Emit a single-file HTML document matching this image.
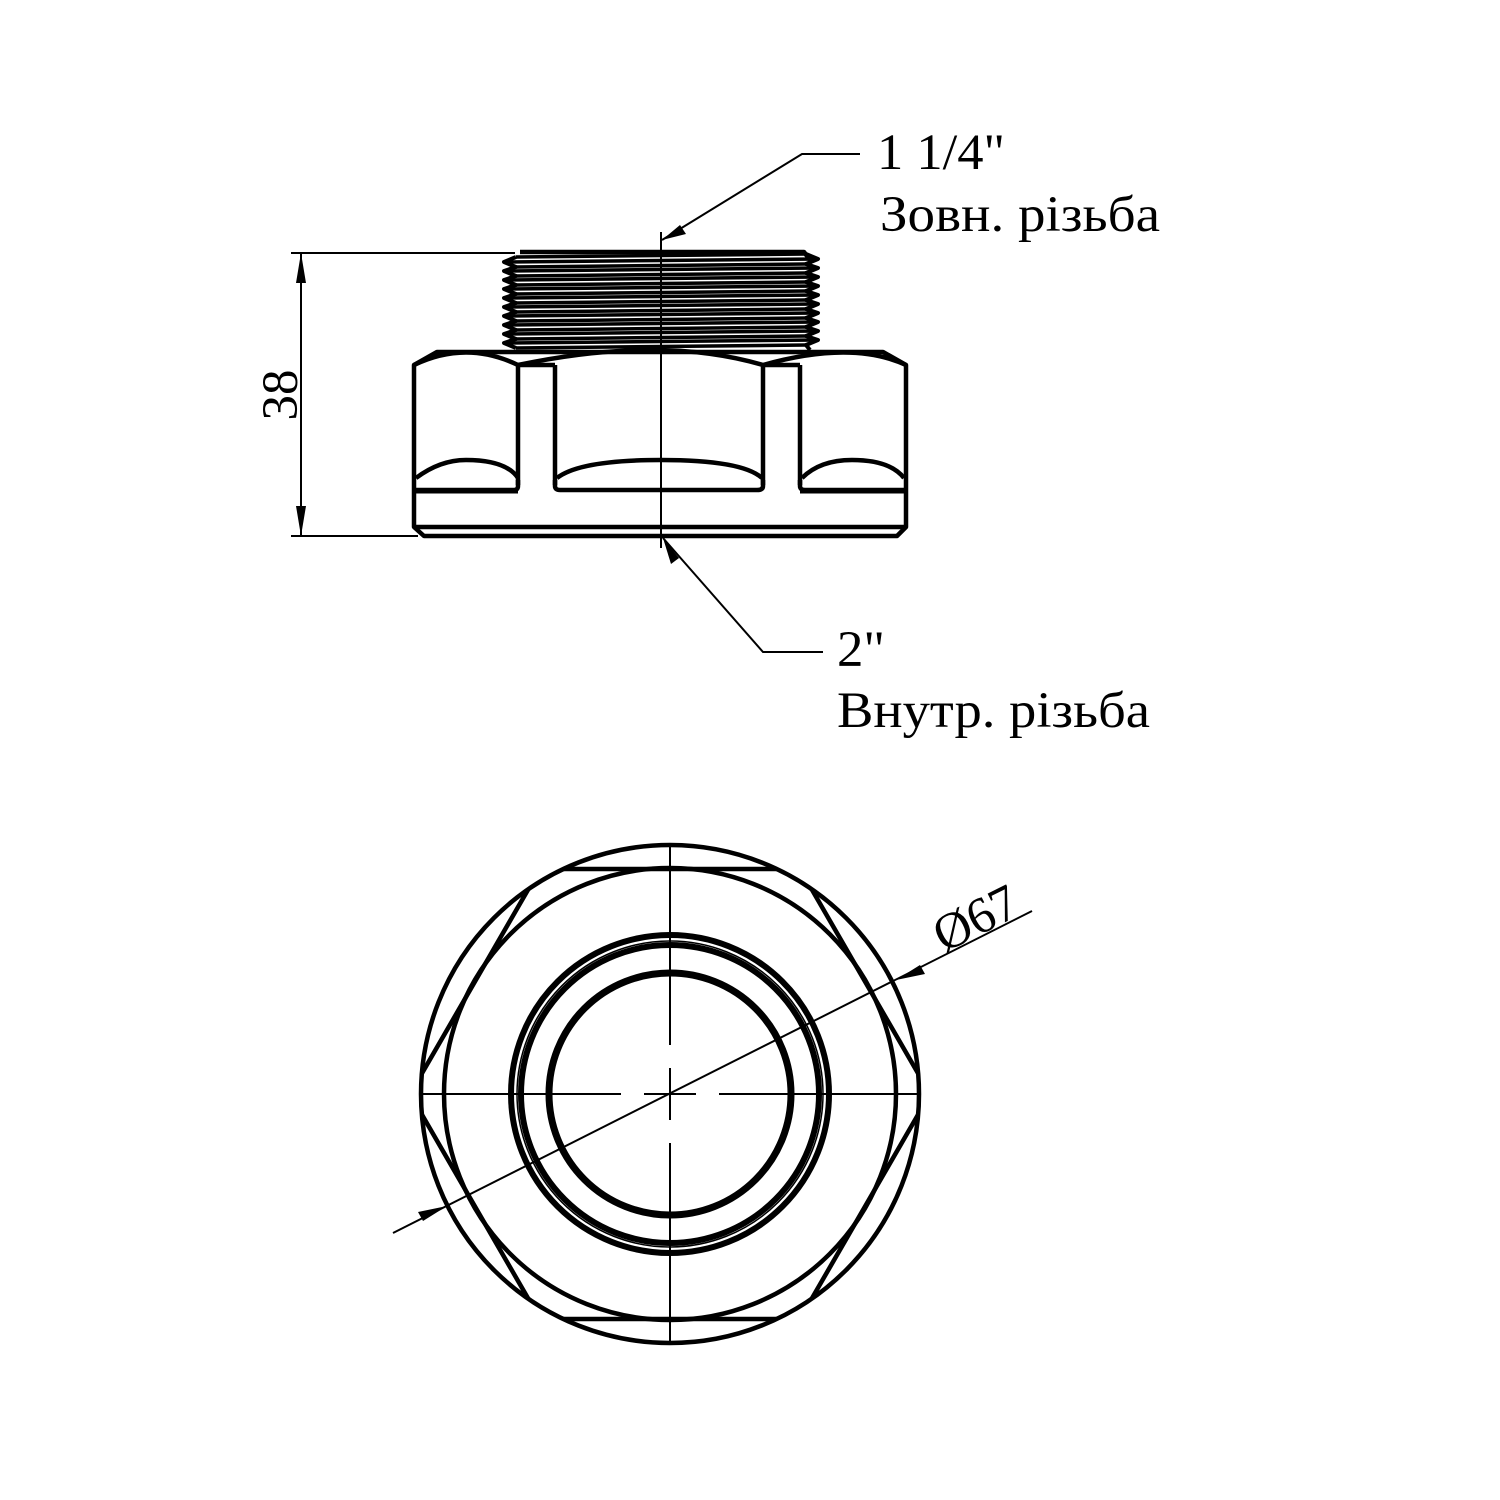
<!DOCTYPE html>
<html><head><meta charset="utf-8"><style>
html,body{margin:0;padding:0;background:#fff}
svg{display:block}
text{font-family:"Liberation Serif","DejaVu Serif",serif;fill:#000}
</style></head><body>
<svg width="1500" height="1500" viewBox="0 0 1500 1500" xmlns="http://www.w3.org/2000/svg">
<defs>
<clipPath id="oc"><circle cx="670" cy="1094" r="249"/></clipPath>
</defs>
<rect width="1500" height="1500" fill="#fff"/>

<!-- ===== TOP VIEW ===== -->
<g fill="none" stroke="#000" stroke-width="4.5" stroke-linejoin="round">
  <path d="M520,252 L804,252 L810,260"/>
  <g stroke-width="4">
    <path d="M516,257 L504,262 L516,267 L504,271 L516,276 L504,280 L516,285 L504,289 L516,294 L504,298 L516,303 L504,307 L516,312 L504,316 L516,321 L504,325 L516,330 L504,334 L516,339 L504,343 L516,348"/>
    <path d="M806,254 L818,259 L806,264 L818,268 L806,273 L818,277 L806,282 L818,286 L806,291 L818,295 L806,300 L818,304 L806,309 L818,313 L806,318 L818,322 L806,327 L818,331 L806,336 L818,340 L806,345 L810,350"/>
  </g>
  <g stroke-width="3.5">
    <line x1="516" y1="257" x2="806" y2="254"/>
    <line x1="504" y1="262" x2="818" y2="259"/>
    <line x1="516" y1="267" x2="806" y2="264"/>
    <line x1="504" y1="271" x2="818" y2="268"/>
    <line x1="516" y1="276" x2="806" y2="273"/>
    <line x1="504" y1="280" x2="818" y2="277"/>
    <line x1="516" y1="285" x2="806" y2="282"/>
    <line x1="504" y1="289" x2="818" y2="286"/>
    <line x1="516" y1="294" x2="806" y2="291"/>
    <line x1="504" y1="298" x2="818" y2="295"/>
    <line x1="516" y1="303" x2="806" y2="300"/>
    <line x1="504" y1="307" x2="818" y2="304"/>
    <line x1="516" y1="312" x2="806" y2="309"/>
    <line x1="504" y1="316" x2="818" y2="313"/>
    <line x1="516" y1="321" x2="806" y2="318"/>
    <line x1="504" y1="325" x2="818" y2="322"/>
    <line x1="516" y1="330" x2="806" y2="327"/>
    <line x1="504" y1="334" x2="818" y2="331"/>
    <line x1="516" y1="339" x2="806" y2="336"/>
    <line x1="504" y1="343" x2="818" y2="340"/>
    <line x1="516" y1="348" x2="806" y2="345"/>
  </g>
  <path d="M437,352 L883,352 L906,365 L906,527 L897,536 L424,536 L414,527 L414,365 Z"/>
  <line x1="416" y1="527" x2="904" y2="527"/>
  <path d="M414,365 Q466,340 518,365 Q661,335 763,365 Q852,340 906,365"/>
  <line x1="518" y1="365" x2="555" y2="365"/>
  <line x1="763" y1="365" x2="800" y2="365"/>
  <line x1="518" y1="365" x2="518" y2="485"/>
  <line x1="555" y1="365" x2="555" y2="485"/>
  <line x1="763" y1="365" x2="763" y2="485"/>
  <line x1="800" y1="365" x2="800" y2="485"/>
  <path d="M518,480 L518,486 Q518,490 514,490 L416,490"/>
  <path d="M555,480 L555,486 Q555,490 560,490 L757,490 Q763,490 763,486 L763,480"/>
  <path d="M800,480 L800,486 Q800,490 805,490 L904,490"/>
  <line x1="416" y1="492" x2="518" y2="492" stroke-width="3"/>
  <line x1="800" y1="492" x2="904" y2="492" stroke-width="3"/>
  <path d="M416,478 Q440,460 466,460 Q506,460 518,478"/>
  <path d="M557,478 Q580,460 661,460 Q742,460 762,478"/>
  <path d="M802,478 Q820,460 852,460 Q890,460 904,478"/>
</g>
<line x1="661" y1="232" x2="661" y2="548" stroke="#000" stroke-width="2"/>
<g stroke="#000" stroke-width="2" fill="none">
  <line x1="291" y1="253" x2="515" y2="253"/>
  <line x1="291" y1="536" x2="418" y2="536"/>
  <line x1="301" y1="253" x2="301" y2="536"/>
</g>
<path d="M301,253 L296,283 L306,283 Z M301,536 L296,506 L306,506 Z" fill="#000"/>
<text x="0" y="0" font-size="51" transform="translate(297,395) rotate(-90)" text-anchor="middle">38</text>
<g stroke="#000" stroke-width="2" fill="none">
  <polyline points="662,240 802,154 860,154"/>
  <polyline points="663,538 763,652 823,652"/>
</g>
<path d="M662,240 L680,225 L686,234 Z" fill="#000"/>
<path d="M663,538 L679,558 L671,564 Z" fill="#000"/>
<text x="877" y="169" font-size="51" textLength="128" lengthAdjust="spacingAndGlyphs">1 1/4"</text>
<text x="880" y="231" font-size="51" textLength="280" lengthAdjust="spacingAndGlyphs">Зовн. різьба</text>
<text x="837" y="666" font-size="51" textLength="48" lengthAdjust="spacingAndGlyphs">2"</text>
<text x="837" y="727" font-size="51" textLength="313" lengthAdjust="spacingAndGlyphs">Внутр. різьба</text>

<!-- ===== BOTTOM VIEW ===== -->
<g fill="none" stroke="#000" stroke-width="4.5">
  <circle cx="670" cy="1094" r="249"/>
  <circle cx="670" cy="1094" r="226"/>
  <polygon clip-path="url(#oc)" points="930,1094 800,869 540,869 410,1094 540,1319 800,1319"/>
  <circle cx="670" cy="1094" r="159" stroke-width="6"/>
  <circle cx="670" cy="1094" r="149" stroke-width="6"/>
  <circle cx="670" cy="1094" r="153" stroke-width="1.5"/>
  <circle cx="670" cy="1094" r="121" stroke-width="7"/>
</g>
<g stroke="#000" stroke-width="2">
  <line x1="670" y1="843" x2="670" y2="1045"/>
  <line x1="670" y1="1068" x2="670" y2="1120"/>
  <line x1="670" y1="1143" x2="670" y2="1345"/>
  <line x1="420" y1="1094" x2="621" y2="1094"/>
  <line x1="644" y1="1094" x2="696" y2="1094"/>
  <line x1="719" y1="1094" x2="920" y2="1094"/>
  <line x1="393" y1="1233" x2="1032" y2="911"/>
</g>
<path d="M447,1206 L418,1212 L423,1221 Z M896,980 L925,974 L920,965 Z" fill="#000"/>
<text x="0" y="0" font-size="51" transform="translate(944,953) rotate(-26.7)">Ø67</text>
</svg>
</body></html>
